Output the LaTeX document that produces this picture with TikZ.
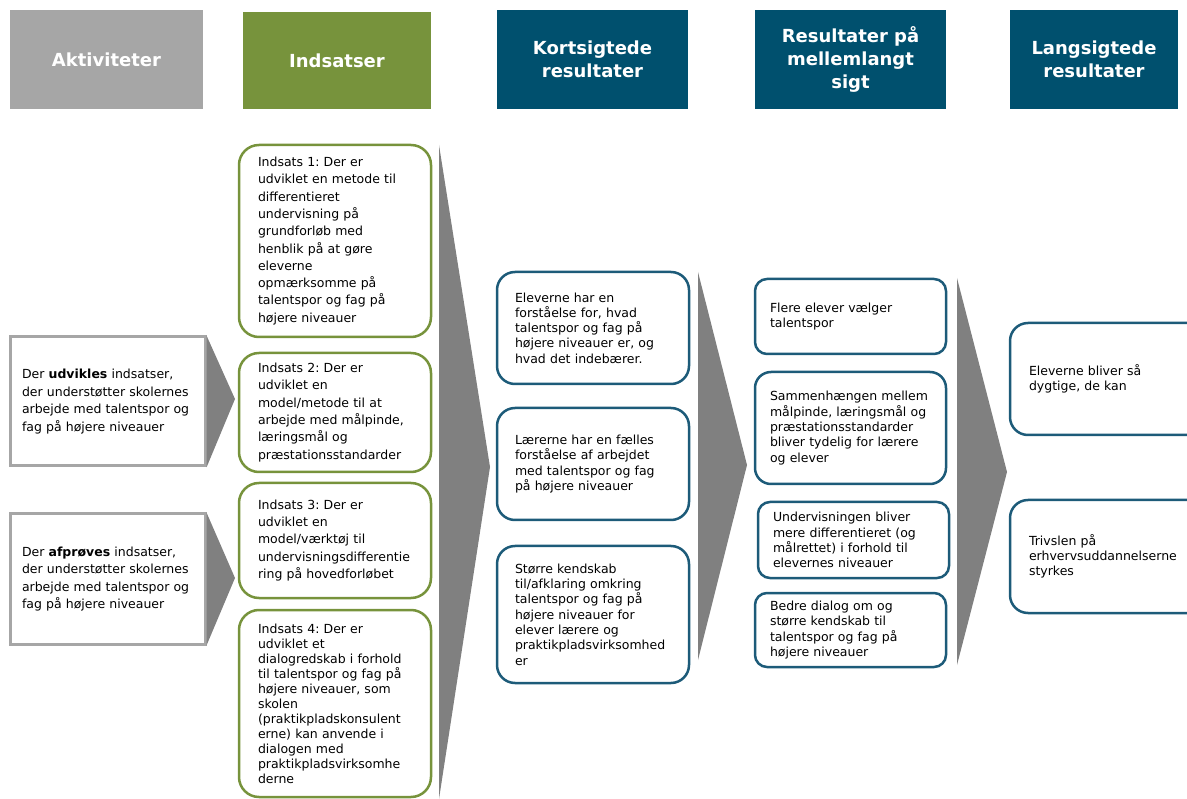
\documentclass[tikz,border=0pt]{standalone}
\usepackage{fontspec}
\setmainfont{DejaVu Sans}
\frenchspacing

\definecolor{aktGray}{HTML}{A6A6A6}
\definecolor{indGreen}{HTML}{77933C}
\definecolor{resBlue}{HTML}{00506E}
\definecolor{resBorder}{HTML}{1D5B79}
\definecolor{arrowGray}{HTML}{808080}

\begin{document}
\begin{tikzpicture}[x=1pt,y=-1pt,%%
  headStyle/.style={rectangle,inner sep=0pt,align=center,text=white,
    font=\fontsize{18}{23}\selectfont\bfseries},%%
  activityBox/.style={rectangle,draw=aktGray,line width=3pt,fill=white,
    text width=171pt,inner xsep=12pt,align=left,
    font=\fontsize{12.5}{17.5}\selectfont},%%
  indsatsBox/.style={rectangle,rounded corners=20pt,draw=indGreen,line width=2.5pt,
    text width=154pt,inner xsep=19pt,align=left,
    font=\fontsize{12.5}{17.3}\selectfont},%%
  resultBox/.style={rectangle,rounded corners=18pt,draw=resBorder,line width=2.5pt,
    text width=156pt,inner xsep=18pt,align=left,
    font=\fontsize{12.5}{15.3}\selectfont},%%
  midBox/.style={resultBox,text width=161pt,inner xsep=15pt},%%
  arrowShape/.style={fill=arrowGray,draw=none}
]
%%
%%
\clip (0,0) rectangle (1187,799);
\pgfmathsetmacro{\xAkt}{107.5}
\pgfmathsetmacro{\xInd}{335}
\pgfmathsetmacro{\xKort}{593}
\pgfmathsetmacro{\xMel}{850.5}
\pgfmathsetmacro{\xLang}{1115}
%%
%%
%% Column headers.
\node (hAkt) at (106.5,59.5) [headStyle,fill=aktGray,minimum width=193pt,minimum height=99pt] {Aktiviteter};
\node (hInd) at (337,60.5) [headStyle,fill=indGreen,minimum width=188pt,minimum height=97pt] {Indsatser};
\node (hKort) at (592.5,59.5) [headStyle,fill=resBlue,minimum width=191pt,minimum height=99pt] {Kortsigtede\\resultater};
\node (hMel) at (850.5,59.5) [headStyle,fill=resBlue,minimum width=191pt,minimum height=99pt] {Resultater på\\mellemlangt\\sigt};
\node (hLang) at (1094,59.5) [headStyle,fill=resBlue,minimum width=168pt,minimum height=99pt] {Langsigtede\\resultater};
%%
%% The big arrows between the columns.
\coordinate (tipInd) at (490,467);
\coordinate (tipKort) at (747,465);
\coordinate (tipMel) at (1007,472);
\fill[arrowShape] (439,145) -- (tipInd) -- (439,799) -- cycle;
\fill[arrowShape] (698,272) -- (tipKort) -- (698,660) -- cycle;
\fill[arrowShape] (957,278) -- (tipMel) -- (957,665) -- cycle;
%%
%% Activities.
\node (udv) at (\xAkt,401.5) [activityBox,minimum height=129pt]
  {Der \textbf{udvikles} indsatser,\\ der understøtter skolernes\\ arbejde med talentspor og\\ fag på højere niveauer};
\node (afp) at (\xAkt,579) [activityBox,minimum height=130pt]
  {Der \textbf{afprøves} indsatser,\\ der understøtter skolernes\\ arbejde med talentspor og\\ fag på højere niveauer};
\coordinate (tipUdv) at (235,399);
\coordinate (tipAfp) at (235,578);
\fill[arrowShape] (udv.north east) -- (tipUdv) -- (udv.south east) -- cycle;
\fill[arrowShape] (afp.north east) -- (tipAfp) -- (afp.south east) -- cycle;
%%
%% Indsatser.
\node (ind1) at (\xInd,241) [indsatsBox,minimum height=192pt]
  {Indsats 1: Der er\\ udviklet en metode til\\ differentieret\\ undervisning på\\ grundforløb med\\ henblik på at gøre\\ eleverne\\ opmærksomme på\\ talentspor og fag på\\ højere niveauer};
\node (ind2) at (\xInd,412.5) [indsatsBox,minimum height=119pt]
  {Indsats 2: Der er\\ udviklet en\\ model/metode til at\\ arbejde med målpinde,\\ læringsmål og\\ præstationsstandarder};
\node (ind3) at (\xInd,540.5) [indsatsBox,minimum height=115pt]
  {Indsats 3: Der er\\ udviklet en\\ model/værktøj til\\ undervisningsdifferentie\\ ring på hovedforløbet};
\node (ind4) at (\xInd,703.5) [indsatsBox,minimum height=187pt,font=\fontsize{12.5}{15}\selectfont]
  {Indsats 4: Der er\\ udviklet et\\ dialogredskab i forhold\\ til talentspor og fag på\\ højere niveauer, som\\ skolen\\ (praktikpladskonsulent\\ erne) kan anvende i\\ dialogen med\\ praktikpladsvirksomhe\\ derne};
%%
%% Short term results.
\node (kort1) at (\xKort,328) [resultBox,minimum height=112pt]
  {Eleverne har en\\ forståelse for, hvad\\ talentspor og fag på\\ højere niveauer er, og\\ hvad det indebærer.};
\node (kort2) at (\xKort,464) [resultBox,minimum height=112pt]
  {Lærerne har en fælles\\ forståelse af arbejdet\\ med talentspor og fag\\ på højere niveauer};
\node (kort3) at (\xKort,614.5) [resultBox,minimum height=137pt]
  {Større kendskab\\ til/afklaring omkring\\ talentspor og fag på\\ højere niveauer for\\ elever lærere og\\ praktikpladsvirksomhed\\ er};
%%
%% Medium term results.
\node (mel1) at (\xMel,316.5) [midBox,rounded corners=12pt,minimum height=75pt]
  {Flere elever vælger\\ talentspor};
\node (mel2) at (\xMel,428) [midBox,rounded corners=16pt,minimum height=112pt]
  {Sammenhængen mellem\\ målpinde, læringsmål og\\ præstationsstandarder\\ bliver tydelig for lærere\\ og elever};
\node (mel3) at (\xMel+3,540) [midBox,rounded corners=12pt,minimum height=76pt]
  {Undervisningen bliver\\ mere differentieret (og\\ målrettet) i forhold til\\ elevernes niveauer};
\node (mel4) at (\xMel,630) [midBox,rounded corners=12pt,minimum height=74pt]
  {Bedre dialog om og\\ større kendskab til\\ talentspor og fag på\\ højere niveauer};
%%
%% Long term results.
\node (lang1) at (\xLang,379) [resultBox,text width=172pt,inner xsep=19pt,minimum height=112pt]
  {Eleverne bliver så\\ dygtige, de kan};
\node (lang2) at (\xLang,556.5) [resultBox,text width=172pt,inner xsep=19pt,minimum height=113pt]
  {Trivslen på\\ erhvervsuddannelserne\\ styrkes};
\end{tikzpicture}
\end{document}
